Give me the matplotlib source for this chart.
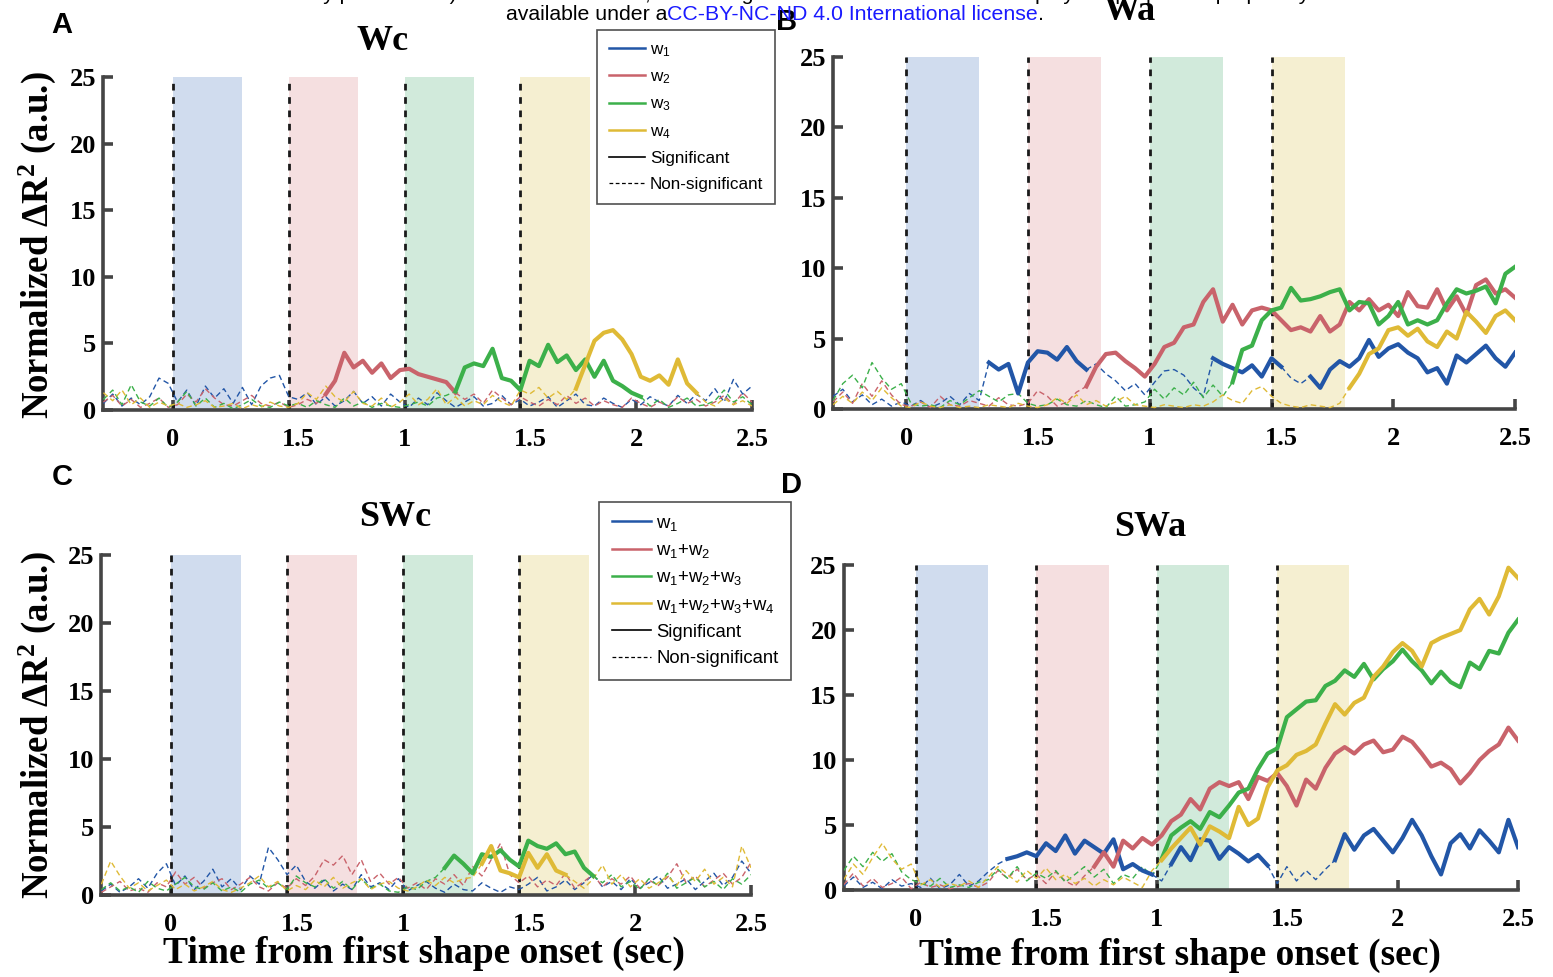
import numpy as np
import matplotlib
matplotlib.use('Agg')
import matplotlib.pyplot as plt
import matplotlib.transforms as mtransforms
from matplotlib.lines import Line2D

plt.rcParams['mathtext.fontset'] = 'custom'
plt.rcParams['mathtext.rm'] = 'Liberation Sans'
plt.rcParams['mathtext.it'] = 'Liberation Sans:italic'
plt.rcParams['mathtext.bf'] = 'Liberation Serif:bold'

SERIF = 'Liberation Serif'
SANS = 'Liberation Sans'

# --- eixo do tempo (s) e marcacoes ---
t = np.round(np.linspace(-0.30, 2.50, 71), 2)
tick_pos = [0, 0.5, 1, 1.5, 2, 2.5]
tick_labels = ['0', '1.5', '1', '1.5', '2', '2.5']
shape_onsets = [0.0, 0.5, 1.0, 1.5]
shape_dur = 0.3
shade_colors = ['#d0dcee', '#f5dfe0', '#d1eadb', '#f5efd1']
line_colors = ['#2256a7', '#c9636b', '#3cb04a', '#dfba36']

# --- A: Wc ---
wc_w1 = [0.5, 1.2, 0.3, 0.9, 0.4, 1.0, 2.4, 2.0, 0.6, 1.5,
         0.3, 1.8, 0.9, 1.6, 0.5, 1.7, 0.4, 1.8, 2.4, 2.6,
         1.0, 0.8, 1.3, 0.4, 1.0, 0.3, 0.7, 1.4, 0.5, 1.0,
         0.3, 1.2, 0.6, 0.2, 0.9, 0.4, 1.3, 0.7, 0.2, 0.6,
         1.0, 0.3, 0.5, 1.1, 0.4, 0.8, 0.3, 0.6, 1.0, 0.2,
         0.7, 1.2, 0.4, 0.3, 0.9, 0.5, 0.2, 0.8, 0.4, 1.0,
         0.6, 0.3, 1.1, 0.5, 1.2, 0.7, 1.6, 0.6, 2.3, 1.2,
         1.8]
wc_w2 = [0.6, 1.1, 0.3, 0.8, 0.2, 0.5, 0.9, 0.2, 0.4, 1.2,
         0.6, 1.6, 0.9, 0.4, 0.3, 0.7, 1.1, 0.5, 0.3, 0.6,
         0.2, 0.4, 0.8, 0.5, 1.2, 2.2, 4.3, 3.2, 3.7, 2.8,
         3.5, 2.4, 3.0, 3.1, 2.7, 2.5, 2.3, 2.1, 1.3, 0.8,
         1.2, 0.5, 1.5, 0.9, 0.4, 1.0, 0.6, 0.3, 0.8, 0.4,
         1.1, 0.5, 0.9, 0.3, 0.7, 0.4, 0.2, 0.9, 0.5, 0.2,
         0.6, 0.3, 1.0, 0.5, 0.8, 0.3, 0.6, 1.1, 0.4, 1.3,
         0.6]
wc_w3 = [0.8, 1.5, 0.4, 1.9, 0.6, 0.3, 0.9, 0.2, 0.6, 1.4,
         0.3, 0.9, 0.2, 0.5, 0.1, 0.4, 0.8, 0.3, 0.2, 0.6,
         0.3, 0.5, 0.2, 0.7, 0.4, 0.2, 0.9, 0.3, 0.6, 0.2,
         0.5, 0.3, 0.2, 0.4, 0.6, 0.3, 0.9, 1.1, 1.4, 3.2,
         3.5, 3.3, 4.6, 2.4, 2.2, 1.5, 3.7, 3.3, 4.9, 3.6,
         4.1, 3.0, 3.8, 2.5, 3.7, 2.2, 1.8, 1.3, 1.0, 0.3,
         0.8, 0.2, 0.5, 0.9, 0.3, 0.4, 0.7, 1.5, 0.6, 1.0,
         0.4]
wc_w4 = [1.3, 0.7, 1.5, 0.4, 0.9, 0.2, 0.6, 0.3, 0.5, 0.2,
         0.4, 0.7, 0.2, 0.3, 0.5, 0.1, 0.4, 0.2, 0.6, 0.3,
         0.2, 0.5, 1.3, 0.8, 1.8, 1.0, 0.6, 1.4, 0.5, 0.3,
         0.9, 0.2, 0.6, 1.2, 0.4, 0.8, 1.6, 0.4, 1.0, 0.3,
         0.7, 0.4, 1.1, 0.6, 0.3, 1.5, 1.2, 1.7, 0.9, 1.4,
         0.8, 1.6, 3.4, 5.2, 5.8, 6.0, 5.3, 4.2, 2.5, 2.2,
         2.6, 1.9, 3.8, 2.0, 1.3, 0.6, 0.3, 0.9, 0.4, 0.7,
         0.3]
wc_sig = [[], [(0.65, 1.23)], [(1.21, 2.03)], [(1.73, 2.27)]]

# --- B: Wa ---
wa_w1 = [0.9, 1.4, 0.5, 1.0, 0.3, 0.7, 0.2, 0.5, 0.2, 0.6,
         0.1, 0.4, 0.9, 0.3, 1.1, 0.6, 3.3, 2.8, 3.2, 1.1,
         3.3, 4.1, 4.0, 3.5, 4.4, 3.4, 2.8, 3.2, 2.5, 2.0,
         1.3, 1.8, 1.0, 1.9, 2.7, 2.8, 2.4, 1.5, 0.9, 3.6,
         3.2, 2.9, 2.6, 3.1, 2.3, 3.6, 3.0, 2.2, 1.8, 2.3,
         1.5, 2.8, 3.4, 3.0, 3.6, 4.9, 3.7, 4.3, 4.6, 4.0,
         3.6, 2.6, 2.9, 1.8, 3.8, 3.3, 3.9, 4.5, 3.6, 3.0,
         4.0]
wa_w2 = [0.5, 1.2, 0.4, 1.8, 0.9, 2.0, 1.0, 0.3, 0.2, 0.5,
         0.1, 0.9, 0.3, 0.2, 0.6, 0.4, 0.2, 0.8, 0.3, 0.2,
         0.4, 1.3, 0.9, 0.2, 0.5, 1.2, 1.6, 3.0, 3.9, 4.0,
         3.4, 2.9, 2.3, 3.2, 4.4, 4.7, 5.8, 6.0, 7.6, 8.5,
         6.2, 7.4, 6.0, 7.0, 7.2, 7.0, 6.3, 5.6, 5.8, 5.5,
         6.6, 5.5, 6.0, 7.6, 7.0, 7.8, 7.0, 7.4, 6.6, 8.3,
         7.3, 7.2, 8.5, 7.0, 8.0, 6.7, 8.8, 9.2, 8.2, 8.5,
         7.9]
wa_w3 = [0.6, 1.8, 2.4, 1.5, 3.3, 2.2, 1.4, 1.8, 0.4, 0.2,
         0.3, 0.1, 0.6, 0.3, 0.8, 1.3, 0.9, 0.5, 1.0, 1.1,
         0.4, 0.2, 0.3, 0.7, 0.3, 0.2, 0.6, 0.3, 0.1, 0.9,
         0.2, 0.3, 0.5, 1.4, 0.7, 1.5, 1.0, 1.9, 0.8, 1.7,
         0.9, 1.9, 4.2, 4.5, 6.3, 7.0, 7.2, 8.6, 7.7, 7.8,
         8.0, 8.3, 8.5, 7.0, 7.6, 7.5, 6.0, 6.6, 7.6, 6.0,
         6.3, 6.0, 6.3, 7.5, 8.5, 8.2, 8.4, 8.7, 7.5, 9.6,
         10.1]
wa_w4 = [0.3, 0.9, 0.4, 1.2, 0.6, 1.5, 0.8, 0.2, 0.1, 0.5,
         0.2, 0.1, 0.3, 0.1, 0.2, 0.1, 0.3, 0.2, 0.1, 0.4,
         0.2, 0.1, 0.3, 0.8, 0.4, 1.0, 0.3, 0.6, 0.2, 0.5,
         0.9, 0.3, 0.2, 0.1, 0.3, 0.2, 0.1, 0.3, 0.2, 0.5,
         1.0, 0.6, 0.4, 1.3, 1.6, 0.9, 0.4, 0.2, 0.1, 0.3,
         0.2, 0.1, 0.4, 1.5, 2.5, 3.9, 4.3, 5.6, 5.8, 5.2,
         5.7, 4.8, 4.4, 5.5, 5.0, 6.9, 6.2, 5.4, 6.6, 7.0,
         6.3]
wa_sig = [[(0.33, 0.75), (1.25, 1.55), (1.65, 2.5)], [(0.73, 2.5)],
          [(1.33, 2.5)], [(1.81, 2.5)]]

# --- C: SWc ---
swc_w1 = [0.3, 0.8, 0.2, 0.6, 1.2, 0.5, 1.6, 2.3, 0.7, 1.4,
          0.4, 1.0, 1.9, 0.6, 1.2, 0.4, 1.4, 0.8, 3.5, 2.6,
          1.5, 2.2, 1.0, 0.5, 1.1, 0.3, 0.8, 0.4, 1.5, 0.6,
          0.9, 0.4, 1.2, 0.3, 0.7, 1.0, 0.5, 0.2, 0.8, 0.4,
          0.3, 0.9, 0.5, 0.2, 0.6, 0.4, 0.8, 1.3, 0.3, 0.6,
          1.1, 0.4, 0.9, 1.5, 0.6, 1.0, 0.4, 1.2, 0.5, 0.9,
          1.4, 0.5, 0.8, 1.2, 0.4, 1.0, 1.6, 0.7, 1.3, 2.5,
          1.6]
swc_w2 = [0.2, 0.6, 1.0, 0.3, 0.5, 0.2, 0.9, 0.6, 1.7, 0.8,
          1.3, 0.5, 0.9, 1.2, 0.4, 0.8, 1.3, 0.6, 0.3, 0.9,
          0.5, 1.2, 0.7, 1.4, 2.6, 2.2, 2.9, 1.5, 2.6, 1.0,
          1.6, 0.8, 1.3, 0.5, 0.9, 0.4, 1.2, 0.8, 1.5, 0.7,
          2.1, 1.4, 2.6, 3.8, 1.5, 0.9, 1.4, 0.6, 1.1, 0.7,
          1.6, 0.5, 1.0, 1.5, 0.6, 1.2, 0.8, 1.4, 0.5, 1.1,
          0.7, 1.3, 2.3, 0.9, 1.4, 0.6, 1.1, 1.6, 0.8, 1.3,
          2.4]
swc_w3 = [0.4, 0.9, 0.3, 0.6, 0.2, 1.0, 0.5, 0.3, 0.8, 1.3,
          0.6, 0.4, 0.9, 0.3, 0.6, 0.2, 0.8, 1.1, 0.5, 0.9,
          0.4, 1.4, 0.9, 0.6, 1.2, 0.5, 1.0, 0.4, 1.2, 0.5,
          0.8, 0.3, 0.2, 0.6, 0.4, 1.0, 1.3, 2.0, 2.9, 2.3,
          1.6, 3.0, 2.8, 3.3, 2.6, 2.1, 4.0, 3.6, 3.4, 3.8,
          3.0, 3.2, 2.0, 1.4, 0.9, 1.5, 0.6, 1.0, 0.4, 1.2,
          0.7, 1.6, 0.5, 0.9, 1.3, 0.6, 1.0, 0.4, 1.2, 0.8,
          1.5]
swc_w4 = [0.8, 2.5, 1.4, 0.5, 0.9, 0.3, 0.7, 1.1, 0.4, 0.8,
          0.3, 0.6, 1.0, 0.4, 0.2, 0.5, 0.9, 1.4, 0.6, 1.0,
          0.3, 0.7, 0.4, 1.1, 0.6, 1.3, 0.5, 0.9, 1.2, 0.4,
          0.8, 1.0, 0.5, 0.3, 0.6, 1.1, 0.7, 1.3, 0.9, 1.2,
          1.3, 2.3, 3.6, 1.8, 1.6, 1.3, 3.1, 2.0, 3.0, 1.8,
          1.5, 1.0, 0.5, 1.2, 2.2, 0.8, 1.5, 0.6, 1.2, 0.5,
          0.9, 1.4, 0.7, 1.8, 1.0, 1.9, 0.8, 1.3, 0.6, 3.6,
          2.0]
swc_sig = [[], [], [(1.17, 1.83)], [(1.33, 1.71)]]

# --- D: SWa ---
swa_w1 = [0.3, 1.0, 0.2, 0.6, 0.1, 0.8, 0.3, 0.5, 0.2, 0.9,
          0.1, 0.4, 1.2, 0.3, 0.7, 1.4, 2.0, 2.4, 2.6, 2.9,
          2.6, 3.6, 3.0, 4.2, 2.8, 3.8, 3.3, 2.8, 3.9, 1.6,
          2.0, 1.5, 1.2, 0.7, 2.0, 3.3, 2.3, 3.9, 3.8, 2.4,
          3.3, 2.8, 2.2, 2.7, 1.9, 0.5, 1.8, 0.7, 1.5, 0.8,
          1.6, 2.3, 4.3, 3.1, 4.2, 4.7, 3.8, 2.9, 4.0, 5.4,
          4.2, 2.6, 1.2, 3.6, 4.3, 3.2, 4.6, 3.8, 2.9, 5.4,
          3.3]
swa_w2 = [0.4, 1.3, 0.3, 0.9, 0.2, 0.5, 1.0, 0.1, 0.6, 0.2,
          0.4, 0.1, 0.3, 0.5, 0.2, 0.6, 1.5, 0.9, 1.6, 0.8,
          1.2, 0.5, 1.4, 0.7, 0.3, 1.1, 1.8, 2.9, 1.8, 3.8,
          3.2, 4.0, 3.5, 4.2, 5.3, 5.8, 7.0, 6.2, 7.8, 8.3,
          8.0, 8.3, 7.0, 8.7, 8.4, 9.0, 8.0, 6.5, 8.5, 7.8,
          9.4, 10.5, 11.0, 10.5, 11.2, 11.5, 10.6, 10.8, 11.8, 11.4,
          10.5, 9.5, 9.8, 9.3, 8.2, 9.0, 10.0, 10.7, 11.2, 12.5,
          11.5]
swa_w3 = [1.5, 2.6, 1.8, 2.9, 2.2, 2.8, 1.4, 0.8, 0.5, 0.3,
          0.9, 0.2, 0.4, 0.2, 0.6, 0.8, 1.6, 0.9, 1.8, 0.7,
          1.3, 0.9, 1.5, 0.6, 1.2, 1.8, 1.0, 1.6, 0.5, 1.2,
          0.9, 1.8, 1.1, 2.4, 4.2, 4.8, 5.3, 4.7, 6.0, 5.6,
          6.5, 7.5, 7.8, 9.3, 10.5, 10.9, 13.3, 13.9, 14.5, 14.6,
          15.7, 16.1, 16.9, 16.4, 17.4, 16.2, 17.0, 17.6, 18.5, 17.6,
          16.9, 15.9, 16.8, 16.0, 15.6, 17.5, 17.0, 18.4, 18.2, 19.8,
          20.8]
swa_w4 = [0.8, 2.0, 1.2, 2.5, 3.6, 2.4, 1.6, 2.0, 0.4, 0.8,
          0.2, 0.5, 0.3, 0.7, 0.2, 1.0, 1.8, 1.2, 0.6, 1.5,
          0.9, 1.7, 0.8, 1.2, 0.5, 0.9, 0.3, 0.8, 0.4, 1.0,
          0.6, 0.2, 1.5, 2.3, 3.2, 4.0, 4.8, 3.5, 4.9, 4.5,
          4.0, 6.4, 5.0, 5.5, 7.9, 9.2, 9.6, 10.4, 10.7, 11.2,
          12.8, 14.3, 13.5, 14.4, 14.8, 16.4, 17.2, 18.3, 19.0, 18.4,
          17.2, 19.0, 19.4, 19.7, 20.0, 21.6, 22.4, 21.2, 22.6, 24.8,
          24.0]
swa_sig = [[(0.37, 0.99), (1.05, 1.47), (1.73, 2.5)], [(0.73, 2.5)],
           [(1.01, 2.5)], [(1.01, 2.5)]]

legend_a = ['w$_1$', 'w$_2$', 'w$_3$', 'w$_4$', 'Significant', 'Non-significant']
legend_c = ['w$_1$', 'w$_1$+w$_2$', 'w$_1$+w$_2$+w$_3$', 'w$_1$+w$_2$+w$_3$+w$_4$',
            'Significant', 'Non-significant']

W, H = 1553, 977


def px(x, y):
    return x / W, 1 - y / H


def draw_series(ax, y, color, spans):
    y = np.asarray(y, float)
    sig = np.zeros(len(t), bool)
    for a, b in spans:
        sig |= (t >= a) & (t <= b)
    ns = ~sig
    near = ns.copy()
    near[1:] |= ns[:-1]
    near[:-1] |= ns[1:]
    ax.plot(t, np.where(near, y, np.nan), color=color, lw=1.0,
            ls=(0, (4, 2.5)), zorder=3)
    ax.plot(t, np.where(sig, y, np.nan), color=color, lw=3.0,
            solid_joinstyle='round', zorder=4)


def style_axes(ax):
    ax.set_xlim(-0.3, 2.5)
    ax.set_ylim(0, 25)
    for s in ['top', 'right']:
        ax.spines[s].set_visible(False)
    for s in ['left', 'bottom']:
        ax.spines[s].set_color('#454545')
        ax.spines[s].set_linewidth(2.6)
    for x0, c in zip(shape_onsets, shade_colors):
        ax.axvspan(x0, x0 + shape_dur, color=c, lw=0, zorder=0)
    ax.vlines(shape_onsets, 0, 25, colors='#1a1a1a', lw=2.0,
              linestyles=(0, (2.4, 2.4)), zorder=2)
    ax.set_xticks(tick_pos)
    ax.set_xticklabels(tick_labels)
    ax.set_yticks([0, 5, 10, 15, 20, 25])
    ax.tick_params(direction='in', length=7, width=2.6, color='#454545')
    ax.tick_params(axis='x', pad=13)
    ax.tick_params(axis='y', pad=5)
    for lab in ax.get_xticklabels() + ax.get_yticklabels():
        lab.set_fontfamily(SERIF)
        lab.set_fontweight('bold')
        lab.set_fontsize(19)
    # os rotulos "1.5" ficam um pouco deslocados para a direita no original
    shift = mtransforms.ScaledTranslation(10 / 100, 0, ax.figure.dpi_scale_trans)
    for i in (1, 3):
        lab = ax.get_xticklabels()[i]
        lab.set_transform(lab.get_transform() + shift)


fig = plt.figure(figsize=(W / 100, H / 100), dpi=100)

panels = [
    dict(rect=(0.0666, 0.5803, 0.4176, 0.3408), data=[wc_w1, wc_w2, wc_w3, wc_w4],
         sig=wc_sig, title='Wc', tpos=(383, 42), letter='A', lpos=(62, 25)),
    dict(rect=(0.5364, 0.5814, 0.4392, 0.3603), data=[wa_w1, wa_w2, wa_w3, wa_w4],
         sig=wa_sig, title='Wa', tpos=(1130, 11), letter='B', lpos=(787, 22)),
    dict(rect=(0.0653, 0.0839, 0.4183, 0.3480), data=[swc_w1, swc_w2, swc_w3, swc_w4],
         sig=swc_sig, title='SWc', tpos=(395, 517), letter='C', lpos=(62, 477)),
    dict(rect=(0.5433, 0.0890, 0.4342, 0.3326), data=[swa_w1, swa_w2, swa_w3, swa_w4],
         sig=swa_sig, title='SWa', tpos=(1150, 527), letter='D', lpos=(791, 485)),
]

for p in panels:
    ax = fig.add_axes(p['rect'])
    style_axes(ax)
    for y, c, s in zip(p['data'], line_colors, p['sig']):
        draw_series(ax, y, c, s)
    fig.text(*px(*p['tpos']), p['title'], ha='center', va='center',
             family=SERIF, fontweight='bold', fontsize=26)
    fig.text(*px(*p['lpos']), p['letter'], ha='center', va='center',
             family=SANS, fontweight='bold', fontsize=21)

# legendas
handles = [Line2D([], [], color=c, lw=1.8) for c in line_colors]
handles += [Line2D([], [], color='k', lw=1.2),
            Line2D([], [], color='k', lw=0.9, ls=(0, (3, 2)))]
for labels, anchor, fs, sp in [(legend_a, (597, 30), 12.3, 0.62),
                               (legend_c, (599, 502), 13.3, 0.5)]:
    leg = fig.legend(handles, labels, loc='upper left', bbox_to_anchor=px(*anchor),
                     borderaxespad=0, frameon=True, fancybox=False, framealpha=1,
                     edgecolor='#505050', handlelength=2.1, handletextpad=0.3,
                     labelspacing=sp, borderpad=0.7,
                     prop={'family': SANS, 'size': fs})
    leg.get_frame().set_linewidth(1.2)

# rotulos dos eixos
ylab = r'Normalized $\mathbf{\Delta R^2}$ (a.u.)'
for yy in [245, 725]:
    fig.text(*px(37, yy), ylab, rotation=90, ha='center', va='center',
             family=SERIF, fontweight='bold', fontsize=26.5)
for xx, yy in [(424, 953), (1180, 955)]:
    fig.text(*px(xx, yy), 'Time from first shape onset (sec)', ha='center',
             va='center', family=SERIF, fontweight='bold', fontsize=27)

# cabecalho do preprint (cortado no topo)
fig.text(*px(782, -6), 'was not certified by peer review) is the author/funder, who has granted '
         'bioRxiv a license to display the preprint in perpetuity. It is made',
         ha='center', va='center', family=SANS, fontsize=15.3)
fig.text(*px(667, 14), 'available under a', ha='right', va='center',
         family=SANS, fontsize=15.3)
lic = fig.text(*px(667, 14), 'CC-BY-NC-ND 4.0 International license', ha='left',
               va='center', family=SANS, fontsize=15.3, color='#1a1aff')
fig.axes[0].annotate('.', xy=(1, 0), xycoords=lic, ha='left', va='bottom',
                     family=SANS, fontsize=15.3, annotation_clip=False)

fig.savefig('out.png', dpi=100)
